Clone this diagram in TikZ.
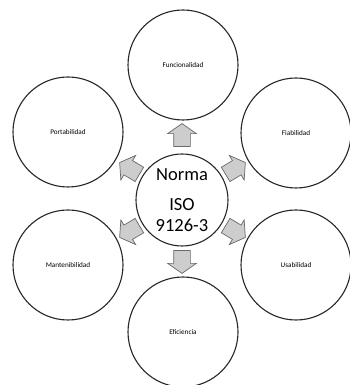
\documentclass[tikz,border=0pt]{standalone}
\usepackage{fontspec}
\setmainfont{Carlito}
\usetikzlibrary{shapes.arrows,positioning,calc}
\definecolor{Linea}{RGB}{40,40,40}
\definecolor{FlechaFill}{RGB}{205,205,205}
\definecolor{FlechaLine}{RGB}{105,105,105}
\tikzset{
  aspecto/.style={circle,draw=Linea,line width=1.1pt,fill=white,minimum size=110pt,inner sep=0pt,font=\fontsize{7.2}{8}\selectfont},
  norma/.style={circle,draw=Linea,line width=1.1pt,fill=white,minimum size=92pt,inner sep=0pt,align=center,font=\fontsize{18.5}{21}\selectfont},
  flecha/.style={single arrow,draw=FlechaLine,fill=FlechaFill,line width=0.7pt,minimum height=23pt,minimum width=28pt,
    single arrow head extend=6pt,single arrow tip angle=110,inner xsep=0pt,inner ysep=8pt}
}
\begin{document}
\begin{tikzpicture}[x=1pt,y=1pt]
\useasboundingbox[fill=white](0,0) rectangle (350,385);
\node[norma](n) at (182,185){Norma\\[9pt]ISO\\9126-3};
\node[aspecto](f) at (183,320){Funcionalidad};
\node[aspecto](p) at (68,253){Portabilidad};
\node[aspecto](fi) at (296,252){Fiabilidad};
\node[aspecto](m) at (68,120){Mantenibilidad};
\node[aspecto](u) at (296,120){Usabilidad};
\node[aspecto](e) at (183,53){Eficiencia};
\node[flecha,rotate=90](a1) at (182,247){};
\node[flecha,rotate=270](a2) at (182,126){};
\node[flecha,rotate=149](a3) at (132,215){};
\node[flecha,rotate=31](a4) at (233,215){};
\node[flecha,rotate=211](a5) at (132,155){};
\node[flecha,rotate=329](a6) at (233,155){};
\end{tikzpicture}
\end{document}
